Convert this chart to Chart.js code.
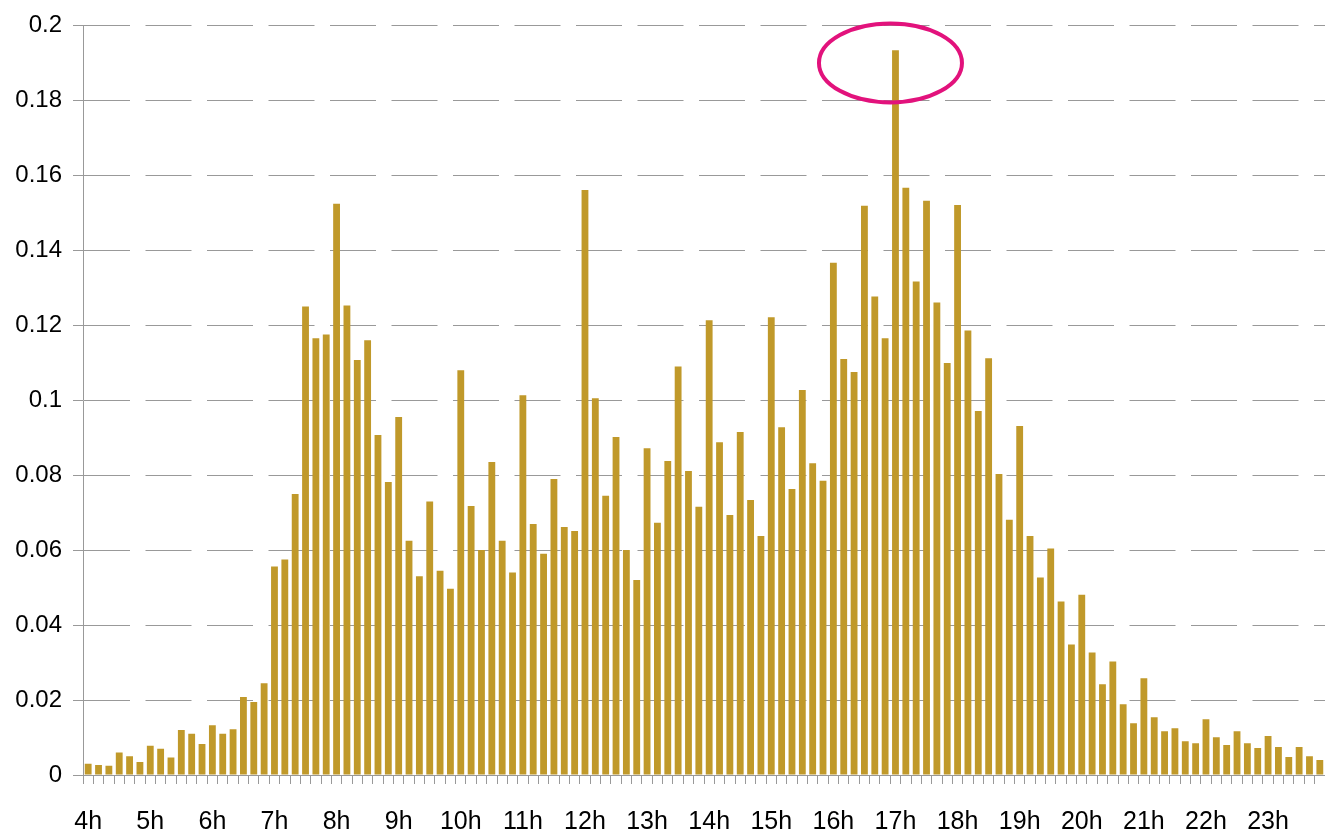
<!DOCTYPE html>
<html>
<head>
<meta charset="utf-8">
<script src="https://cdn.jsdelivr.net/npm/chart.js@4.4.1/dist/chart.umd.min.js"></script>
<style>
    html, body { margin: 0; padding: 0; background: #fff; }
    #wrap { width: 1325px; height: 832px; position: relative; }
</style>
</head>
<body>
<div id="wrap"><canvas id="myChart"></canvas></div>
<script>
// hour labels, one every 6 slots (10 minute bins)
const hourLabels = ['4h', '5h', '6h', '7h', '8h', '9h', '10h', '11h', '12h', '13h',
    '14h', '15h', '16h', '17h', '18h', '19h', '20h', '21h', '22h', '23h'];
const slotsPerHour = 6;

// share per 10 minute slot
const shareValues = [
    0.0030, 0.0027, 0.0025, 0.0060, 0.0050, 0.0035,
    0.0078, 0.0070, 0.0047, 0.0120, 0.0110, 0.0083,
    0.0133, 0.0110, 0.0122, 0.0208, 0.0195, 0.0245,
    0.0556, 0.0575, 0.0750, 0.1250, 0.1165, 0.1175,
    0.1524, 0.1253, 0.1107, 0.1160, 0.0907, 0.0782,
    0.0955, 0.0625, 0.0530, 0.0730, 0.0545, 0.0497,
    0.1080, 0.0718, 0.0600, 0.0835, 0.0625, 0.0540,
    0.1013, 0.0670, 0.0590, 0.0790, 0.0662, 0.0651,
    0.1561, 0.1005, 0.0745, 0.0902, 0.0600, 0.0520,
    0.0872, 0.0673, 0.0838, 0.1090, 0.0811, 0.0716,
    0.1213, 0.0888, 0.0694, 0.0915, 0.0734, 0.0638,
    0.1221, 0.0928, 0.0763, 0.1027, 0.0832, 0.0785,
    0.1367, 0.1110, 0.1075, 0.1519, 0.1277, 0.1165,
    0.1934, 0.1567, 0.1317, 0.1532, 0.1261, 0.1099,
    0.1521, 0.1186, 0.0971, 0.1112, 0.0803, 0.0681,
    0.0931, 0.0638, 0.0527, 0.0604, 0.0463, 0.0348,
    0.0481, 0.0327, 0.0242, 0.0303, 0.0189, 0.0138,
    0.0258, 0.0154, 0.0117, 0.0125, 0.0090, 0.0085,
    0.0149, 0.0101, 0.0080, 0.0117, 0.0085, 0.0072,
    0.0104, 0.0075, 0.0048, 0.0075, 0.0050, 0.0040
];

const yTickLabels = ['0', '0.02', '0.04', '0.06', '0.08', '0.1', '0.12', '0.14', '0.16', '0.18', '0.2'];

// the circled peak (17h slot)
const highlightIndex = 78;
const highlightLevel = 0.19;

document.addEventListener('DOMContentLoaded', function () {
    // one category per slot, label only on the full hour
    let categories = [];
    hourLabels.forEach(h => {
        for (let i = 0; i < slotsPerHour; i++) {
            categories.push(i === 0 ? h : '');
        }
    });

    Chart.defaults.font.family = '"Liberation Sans", Arial, sans-serif';
    Chart.defaults.font.size = 24;
    Chart.defaults.color = '#000';

    const highlightPlugin = {
        id: 'highlight',
        afterDatasetsDraw(chart) {
            const ctx = chart.ctx;
            const x = chart.scales.x.getPixelForValue(highlightIndex) - 5;
            const y = chart.scales.y.getPixelForValue(highlightLevel);
            ctx.save();
            ctx.strokeStyle = '#e2127c';
            ctx.lineWidth = 4;
            ctx.beginPath();
            ctx.ellipse(x, y, 71.5, 39.5, 0, 0, Math.PI * 2);
            ctx.stroke();
            ctx.restore();
        }
    };

    const ctx = document.getElementById('myChart').getContext('2d');
    new Chart(ctx, {
        type: 'bar',
        data: {
            labels: categories,
            datasets: [{
                data: shareValues,
                backgroundColor: '#c0992a',
                borderWidth: 0,
                barPercentage: 0.66,
                categoryPercentage: 1
            }]
        },
        options: {
            responsive: true,
            maintainAspectRatio: false,
            animation: false,
            layout: { padding: { top: 24, left: 0, right: 0, bottom: 0 } },
            plugins: {
                legend: { display: false },
                tooltip: { enabled: false }
            },
            scales: {
                x: {
                    offset: true,
                    grid: {
                        display: true,
                        offset: true,
                        drawOnChartArea: false,
                        drawTicks: true,
                        tickLength: 9,
                        tickColor: '#999'
                    },
                    border: { display: true, color: '#999' },
                    ticks: {
                        autoSkip: false,
                        maxRotation: 0,
                        minRotation: 0,
                        padding: 23,
                        font: { size: 25 }
                    },
                    afterFit(scale) {
                        scale.height = 57;
                        // no side padding, the plot runs to the right edge
                        scale.paddingLeft = 0;
                        scale.paddingRight = 0;
                    }
                },
                y: {
                    min: 0,
                    max: 0.2,
                    ticks: {
                        stepSize: 0.02,
                        padding: 11,
                        callback: function (value, index) {
                            return yTickLabels[index];
                        }
                    },
                    grid: {
                        color: '#999',
                        tickLength: 10,
                        tickBorderDash: []
                    },
                    border: { display: true, color: '#999', dash: [46, 15.5] },
                    afterFit(scale) {
                        scale.width = 83;
                    }
                }
            }
        },
        plugins: [highlightPlugin]
    });
});
</script>
</body>
</html>
